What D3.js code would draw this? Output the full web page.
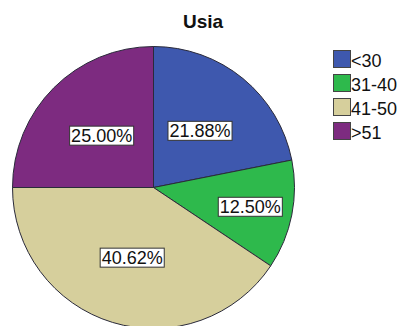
<!DOCTYPE html>
<html><head><meta charset="utf-8">
<script src="https://cdn.jsdelivr.net/npm/d3@7"></script>
<style>body{margin:0;background:#fff}svg{display:block}</style>
</head><body>
<svg id="c" width="403" height="326"></svg>
<script>
const categories = ["<30", "31-40", "41-50", ">51"];
const values = [21.88, 12.50, 40.62, 25.00];
const labels = ["21.88%", "12.50%", "40.62%", "25.00%"];
const colors = ["#3e58ae", "#2eb94c", "#d6cf9c", "#7d2b80"];
const title = "Usia";

const svg = d3.select("#c");
const W = 403, H = 326;
const cx = 153.5, cy = 187.5, r = 141;
const font = "'Liberation Sans', Arial, sans-serif";

svg.append("text").attr("x", 203).attr("y", 28).attr("text-anchor", "middle")
  .attr("font-family", font).attr("font-weight", "bold").attr("font-size", 19)
  .attr("fill", "#111").text(title);

const pie = d3.pie().sort(null).value(d => d)(values);
const arc = d3.arc().innerRadius(0).outerRadius(r);
const g = svg.append("g").attr("transform", `translate(${cx},${cy})`);
g.selectAll("path").data(pie).join("path")
  .attr("d", arc).attr("fill", (d, i) => colors[i])
  .attr("stroke", "#2a2a3a").attr("stroke-width", 1);

pie.forEach((d, i) => {
  const frac = (d.endAngle - d.startAngle) / (2 * Math.PI);
  const lr = frac < 0.15 ? 0.70 * r : 0.52 * r;
  const la = d3.arc().innerRadius(lr).outerRadius(lr);
  const [x, y] = la.centroid(d);
  const lg = g.append("g").attr("transform", `translate(${x},${y})`);
  const t = lg.append("text").attr("text-anchor", "middle").attr("dy", "0.36em")
    .attr("font-family", font).attr("font-size", 18).attr("fill", "#111")
    .text(labels[i]);
  const bb = t.node().getBBox();
  lg.insert("rect", "text").attr("x", bb.x - 1.5).attr("y", -9.5)
    .attr("width", bb.width + 3).attr("height", 19)
    .attr("fill", "#fff").attr("stroke", "#333").attr("stroke-width", 1);
});

const leg = svg.append("g");
categories.forEach((c, i) => {
  const y0 = 50 + i * 24;
  leg.append("rect").attr("x", 333.5).attr("y", y0 + 0.5).attr("width", 17).attr("height", 17)
    .attr("fill", colors[i]).attr("stroke", "#444").attr("stroke-width", 1);
  leg.append("text").attr("x", 351).attr("y", y0 + 17).attr("font-family", font)
    .attr("font-size", 18).attr("fill", "#111").text(c);
});
</script>
</body></html>
